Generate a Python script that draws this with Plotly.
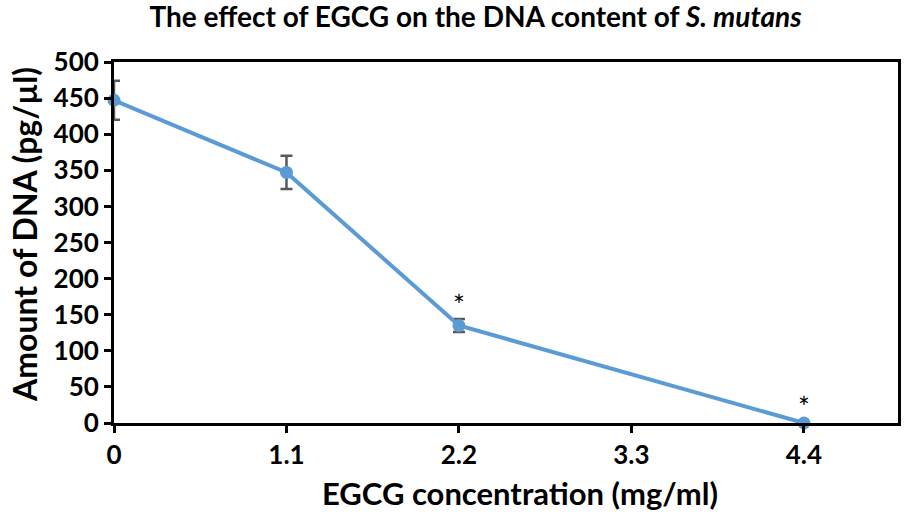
import plotly.graph_objects as go

conc = [0, 1.1, 2.2, 4.4]
dna = [447, 347, 135, 0]
err = [27, 23, 9, 0]
sig_x = [2.2, 4.4]
sig_y = [158, 17]
x_ticks = [0, 1.1, 2.2, 3.3, 4.4]
x_tick_labels = ["0", "1.1", "2.2", "3.3", "4.4"]
y_ticks = [0, 50, 100, 150, 200, 250, 300, 350, 400, 450, 500]

FONT = "Lato"

fig = go.Figure()
fig.add_trace(go.Scatter(
    x=conc, y=dna, mode="lines+markers",
    line=dict(color="#5B9BD5", width=4),
    marker=dict(color="#5B9BD5", size=13),
    error_y=dict(type="data", array=err, visible=True, color="#595959", thickness=2.5, width=6),
    cliponaxis=False, showlegend=False,
))
fig.add_trace(go.Scatter(
    x=sig_x, y=sig_y, mode="text", text=["*"] * len(sig_x),
    textfont=dict(family=FONT, size=28, color="black"),
    showlegend=False, cliponaxis=False,
))

fig.update_layout(
    width=904, height=512,
    margin=dict(l=114, r=6, t=62, b=89),
    plot_bgcolor="white", paper_bgcolor="white",
    title=dict(text="The effect of EGCG on the DNA content of <i>S. mutans</i>",
               x=0.526, xanchor="center", y=0.966, yanchor="middle",
               font=dict(family=FONT, size=28, color="black", weight="bold")),
    xaxis=dict(range=[0, 5.0], tickvals=x_ticks, ticktext=x_tick_labels, automargin=False,
               showgrid=False, zeroline=False, showline=True, linecolor="black", linewidth=3,
               mirror=True, ticks="outside", ticklen=7, tickwidth=3, tickcolor="black",
               tickfont=dict(family=FONT, size=26, color="black", weight="bold")),
    yaxis=dict(range=[0, 500], tickvals=y_ticks, automargin=False,
               showgrid=False, zeroline=False, showline=True, linecolor="black", linewidth=3,
               mirror=True, ticks="outside", ticklen=7, tickwidth=3, tickcolor="black",
               tickfont=dict(family=FONT, size=26, color="black", weight="bold")),
    annotations=[
        dict(text="EGCG concentration (mg/ml)", xref="paper", yref="paper",
             x=0.518, y=-0.194, xanchor="center", yanchor="middle", showarrow=False,
             font=dict(family=FONT, size=31, color="black", weight="bold")),
        dict(text="Amount of DNA (pg/µl)", xref="paper", yref="paper", textangle=-90,
             x=-0.1135, y=0.521, xanchor="center", yanchor="middle", showarrow=False,
             font=dict(family=FONT, size=32, color="black", weight="bold")),
    ],
)
fig.write_html("out.html", config={"displayModeBar": False},
               post_script="document.body.style.margin='0px';")
